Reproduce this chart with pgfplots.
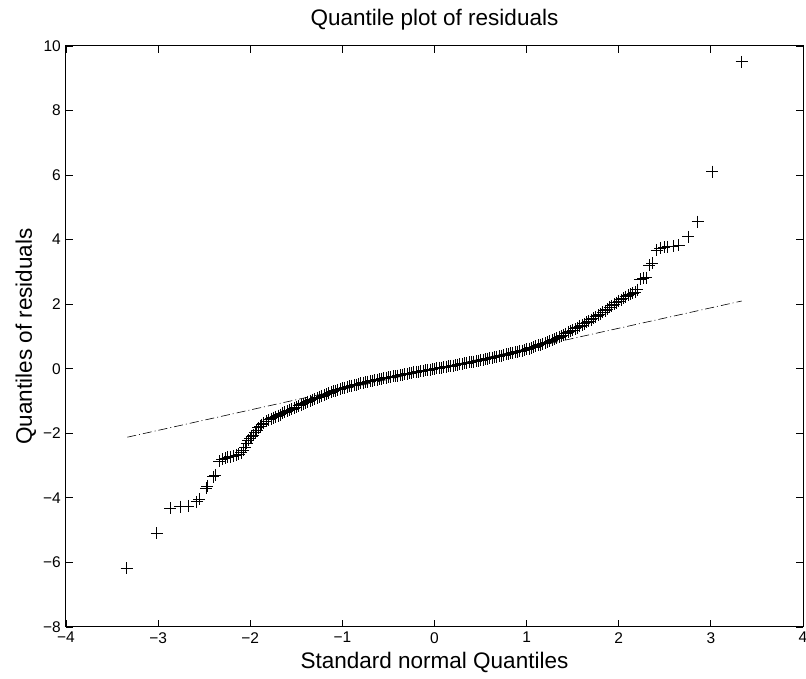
\documentclass[border=0pt]{standalone}
\usepackage{fontspec}
\setmainfont{Liberation Sans}
\usepackage{pgfplots}
\pgfplotsset{compat=1.18}
\begin{document}
\begin{tikzpicture}
\begin{axis}[
  at={(0pt,0pt)}, anchor=south west,
  scale only axis, width=737pt, height=581pt,
  xmin=-4, xmax=4, ymin=-8, ymax=10,
  xtick={-4,-3,-2,-1,0,1,2,3,4},
  xticklabels={−4,−3,−2,−1,0,1,2,3,4},
  ytick={-8,-6,-4,-2,0,2,4,6,8,10},
  yticklabels={−8,−6,−4,−2,0,2,4,6,8,10},
  tick align=inside, major tick length=7pt,
  axis line style={line width=1pt},
  every tick/.style={black, line width=0.8pt},
  ticklabel style={font=\fontsize{15.5}{18}\selectfont, inner sep=0pt},
  xticklabel style={yshift=-5pt},
  yticklabel style={xshift=-5pt},
  title={Quantile plot of residuals},
  title style={font=\fontsize{22.5}{27}\selectfont, at={(0.5,1)}, anchor=base, yshift=14pt},
  xlabel={Standard normal Quantiles},
  xlabel style={font=\fontsize{22.5}{27}\selectfont, at={(0.5,0)}, anchor=base, yshift=-42pt},
  ylabel={Quantiles of residuals},
  ylabel style={font=\fontsize{22.5}{27}\selectfont, at={(0,0.5)}, anchor=base, yshift=34pt},
  clip=false,
]
\addplot[black, line width=0.6pt, dash pattern=on 9pt off 3pt on 1pt off 3pt] coordinates {(-3.335,-2.12) (3.335,2.10)};
\addplot[only marks, mark=+, mark size=6pt, black, mark options={line width=0.7pt}] table {
x y
-3.341 -6.18
-3.016 -5.10
-2.871 -4.32
-2.763 -4.27
-2.672 -4.25
-2.581 -4.12
-2.553 -4.04
-2.480 -3.70
-2.466 -3.63
-2.400 -3.34
-2.380 -3.29
-2.336 -2.86
-2.305 -2.80
-2.275 -2.76
-2.245 -2.73
-2.215 -2.72
-2.185 -2.70
-2.155 -2.67
-2.125 -2.64
-2.100 -2.60
-2.075 -2.52
-2.055 -2.42
-2.039 -2.31
-2.020 -2.22
-2.003 -2.15
-1.985 -2.10
-1.967 -2.05
-1.950 -1.98
-1.930 -1.90
-1.912 -1.83
-1.894 -1.77
-1.876 -1.73
-1.858 -1.69
-1.825 -1.62
-1.800 -1.58
-1.775 -1.548
-1.750 -1.515
-1.725 -1.483
-1.700 -1.45
-1.675 -1.418
-1.650 -1.385
-1.625 -1.353
-1.600 -1.32
-1.575 -1.285
-1.550 -1.25
-1.525 -1.215
-1.500 -1.18
-1.475 -1.148
-1.450 -1.115
-1.425 -1.083
-1.400 -1.05
-1.375 -1.02
-1.350 -0.99
-1.325 -0.96
-1.300 -0.93
-1.275 -0.90
-1.250 -0.87
-1.225 -0.84
-1.200 -0.81
-1.175 -0.783
-1.150 -0.755
-1.125 -0.728
-1.100 -0.70
-1.075 -0.675
-1.050 -0.65
-1.025 -0.625
-1.000 -0.60
-0.975 -0.581
-0.950 -0.563
-0.925 -0.544
-0.900 -0.525
-0.875 -0.506
-0.850 -0.488
-0.825 -0.469
-0.800 -0.45
-0.775 -0.434
-0.750 -0.418
-0.725 -0.401
-0.700 -0.385
-0.675 -0.369
-0.650 -0.353
-0.625 -0.336
-0.600 -0.32
-0.575 -0.306
-0.550 -0.293
-0.525 -0.279
-0.500 -0.265
-0.475 -0.251
-0.450 -0.238
-0.425 -0.224
-0.400 -0.21
-0.375 -0.196
-0.350 -0.183
-0.325 -0.169
-0.300 -0.155
-0.275 -0.141
-0.250 -0.128
-0.225 -0.114
-0.200 -0.10
-0.175 -0.088
-0.150 -0.075
-0.125 -0.063
-0.100 -0.05
-0.075 -0.038
-0.050 -0.025
-0.025 -0.013
0.000 0.000
0.025 0.013
0.050 0.025
0.075 0.038
0.100 0.05
0.125 0.063
0.150 0.075
0.175 0.088
0.200 0.10
0.225 0.114
0.250 0.128
0.275 0.141
0.300 0.155
0.325 0.169
0.350 0.183
0.375 0.196
0.400 0.21
0.425 0.225
0.450 0.24
0.475 0.255
0.500 0.27
0.525 0.285
0.550 0.30
0.575 0.315
0.600 0.33
0.625 0.346
0.650 0.363
0.675 0.379
0.700 0.395
0.725 0.411
0.750 0.428
0.775 0.444
0.800 0.46
0.825 0.478
0.850 0.495
0.875 0.513
0.900 0.53
0.925 0.548
0.950 0.565
0.975 0.583
1.000 0.60
1.025 0.625
1.050 0.65
1.075 0.675
1.100 0.70
1.125 0.725
1.150 0.75
1.175 0.775
1.200 0.80
1.225 0.83
1.250 0.86
1.275 0.89
1.300 0.92
1.325 0.953
1.350 0.985
1.375 1.018
1.400 1.05
1.425 1.088
1.450 1.125
1.475 1.163
1.500 1.20
1.525 1.238
1.550 1.275
1.575 1.313
1.600 1.35
1.625 1.393
1.650 1.435
1.675 1.478
1.700 1.52
1.725 1.565
1.750 1.61
1.775 1.655
1.800 1.70
1.825 1.75
1.850 1.80
1.875 1.85
1.900 1.90
1.925 1.95
1.950 2.00
1.975 2.05
2.000 2.10
2.025 2.145
2.050 2.19
2.075 2.235
2.100 2.28
2.125 2.31
2.150 2.35
2.176 2.38
2.200 2.45
2.230 2.78
2.265 2.80
2.300 2.82
2.330 3.20
2.360 3.28
2.410 3.68
2.450 3.74
2.490 3.76
2.530 3.78
2.590 3.80
2.650 3.82
2.755 4.09
2.857 4.56
3.016 6.11
3.335 9.51
};
\end{axis}
\pgfresetboundingbox
\path[use as bounding box] (-66pt,-52pt) rectangle (740pt,627pt);
\end{tikzpicture}
\end{document}
